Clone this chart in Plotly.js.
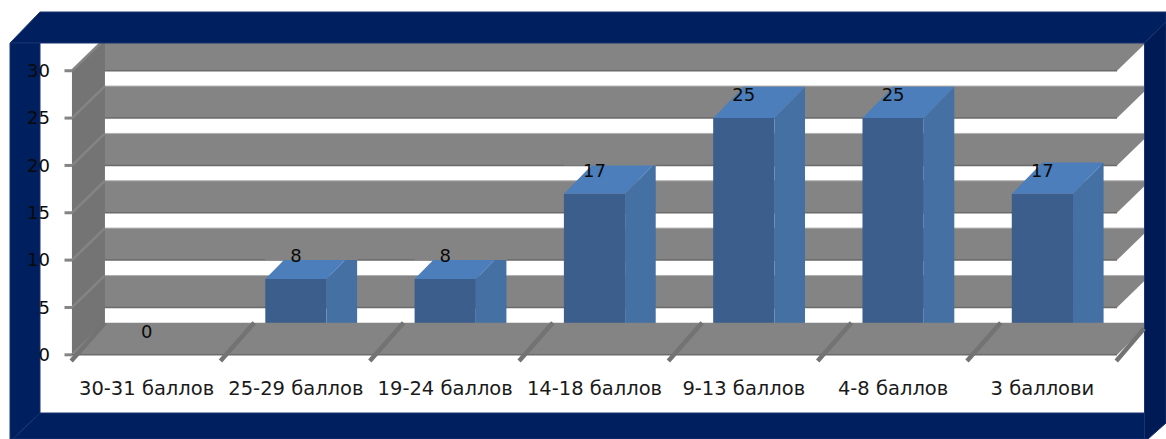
<!DOCTYPE html>
<html>
<head>
<meta charset="utf-8">
<script src="https://cdn.plot.ly/plotly-3.0.1.min.js"></script>
<style>html,body{margin:0;padding:0;background:#fff}#chart{width:1166px;height:439px}</style>
</head>
<body>
<div id="chart"></div>
<script>
// Score bands and the share of results in each
const categories = ['30-31 баллов', '25-29 баллов', '19-24 баллов', '14-18 баллов', '9-13 баллов', '4-8 баллов', '3 баллови'];
const values = [0, 8, 8, 17, 25, 25, 17];
const yTicks = [0, 5, 10, 15, 20, 25, 30];

const W = 1166, H = 439;
const xRange = [-0.982, 6.828];
const yRange = [-8.89, 37.47];

// Pseudo-3D depth of the walls and of the columns, in axis units
const wallDX = 0.221, wallDY = 3.38;
const barDX = 0.205, barDY = 3.3;
const barW = 0.41;
const x0 = -0.5, x1 = categories.length - 0.5;
const clipX = x1 + 0.181;          // right wall stops at the inner frame edge

const FONT = 'DejaVu Sans, Verdana, sans-serif';
const navy = '#001f5f', navyDark = '#001a56', edge = '#1a3370';
const bandGray = '#848484', wallGray = '#747474', ridgeGray = '#848484', divGray = '#737373';

const poly = pts => 'M' + pts.map(p => p[0] + ',' + p[1]).join('L') + 'Z';
const dataShape = (pts, fill) => ({type: 'path', xref: 'x', yref: 'y', layer: 'below', path: poly(pts), fillcolor: fill, line: {width: 0}});
const dataLine = (a, b, color, width) => ({type: 'line', xref: 'x', yref: 'y', layer: 'below', x0: a[0], y0: a[1], x1: b[0], y1: b[1], line: {color: color, width: width}});

// Frame corners are given in page pixels and converted to axis units so they stack above the planes
const pageX = px => xRange[0] + px / W * (xRange[1] - xRange[0]);
const pageY = py => yRange[1] - py / H * (yRange[1] - yRange[0]);
const frame = (pts, fill) => ({type: 'path', xref: 'x', yref: 'y', layer: 'below',
  path: poly(pts.map(p => [pageX(p[0]), pageY(p[1])])), fillcolor: fill, line: {color: edge, width: 1}});

const shapes = [];

// Horizontal gridline planes running back from each value tick
yTicks.slice(1).forEach(v => {
  shapes.push(dataShape([[x0, v], [x1, v], [x1 + wallDX, v + wallDY], [x0 + wallDX, v + wallDY]], bandGray));
  shapes.push(dataLine([x0 + wallDX, v + wallDY], [x1 + wallDX, v + wallDY], '#b0b0b0', 1));
  shapes.push(dataLine([x0, v], [x1, v], '#6a6a6a', 1.5));
});

// Left side wall with its raised tick ridges
shapes.push(dataShape([[x0, 0], [x0 + wallDX, wallDY], [x0 + wallDX, 30 + wallDY], [x0, 30]], wallGray));
yTicks.forEach(v => {
  shapes.push(dataLine([x0 - 0.05, v], [x0, v], ridgeGray, 3));
  shapes.push(dataLine([x0, v], [x0 + wallDX, v + wallDY], ridgeGray, 2.5));
});

// Navy picture frame
shapes.push(frame([[40, 12], [1166, 12], [1166, 22], [1144.5, 43], [10, 43]], navy));
shapes.push(frame([[10, 43], [40, 43], [40, 413], [13, 439], [10, 439]], navy));
shapes.push(frame([[13, 439], [40, 413], [1144.5, 413], [1144.5, 439]], navy));
shapes.push(frame([[1144.5, 43], [1166, 22], [1166, 423], [1148, 439], [1144.5, 439]], navyDark));

// Polygons with null separators, one ring per column
const ring = (list, build) => {
  const xs = [], ys = [];
  list.forEach(i => {
    build(i).forEach(p => { xs.push(p[0]); ys.push(p[1]); });
    xs.push(null); ys.push(null);
  });
  return {x: xs, y: ys};
};
const filled = (r, color) => ({type: 'scatter', mode: 'lines', x: r.x, y: r.y, fill: 'toself', fillcolor: color, line: {width: 0}, hoverinfo: 'skip', showlegend: false});

const standing = values.map((v, i) => i).filter(i => values[i] > 0);

const sideFaces = ring(standing, i => {
  const r = i + barW / 2, v = values[i];
  return [[r, 0], [r + barDX, barDY], [r + barDX, v + barDY], [r, v]];
});
const topFaces = ring(standing, i => {
  const l = i - barW / 2, r = i + barW / 2, v = values[i];
  return [[l, v], [r, v], [r + barDX, v + barDY], [l + barDX, v + barDY]];
});

// The gridline planes at 10 and 20 pass in front of the tops of these columns
const overlaps = [{i: 1, v: 10}, {i: 2, v: 10}, {i: 3, v: 20}];
const planePatches = ring(overlaps, o => {
  const a = o.i - barW / 2, b = o.i + barW / 2 + barDX + 0.005, t = o.v + wallDY - 0.15;
  return [[a, o.v], [b, o.v], [b, t], [a, t]];
});

const floor = [[x0, 0], [x1, 0], [clipX, 0.181 / wallDX * wallDY], [clipX, wallDY], [x0 + wallDX, wallDY]];
const floorRing = ring([0], () => floor);

// Category dividers across the floor
const divX = [], divY = [];
for (let k = 0; k <= categories.length; k++) {
  const sx = x0 + k;
  const depth = k === categories.length ? 0.181 : wallDX;
  divX.push(sx - 0.005, sx + depth, null);
  divY.push(-0.65, depth / wallDX * wallDY, null);
}

const traces = [
  {type: 'bar', x: categories.map((c, i) => i), y: values, width: barW, marker: {color: '#3b5e8c', line: {width: 0}}, hoverinfo: 'skip', showlegend: false},
  filled(sideFaces, '#4570a4'),
  filled(topFaces, '#4c7ebb'),
  filled(planePatches, bandGray),
  filled(floorRing, bandGray),
  {type: 'scatter', mode: 'lines', x: [x0, x1, null], y: [0, 0, null], line: {color: '#6a6a6a', width: 1.5}, hoverinfo: 'skip', showlegend: false},
  {type: 'scatter', mode: 'lines', x: divX, y: divY, line: {color: divGray, width: 4.5}, hoverinfo: 'skip', showlegend: false},
  {type: 'scatter', mode: 'text', x: categories.map((c, i) => i), y: values.map(v => v + 2.3), text: values.map(String),
    textposition: 'middle center', textfont: {family: FONT, size: 18, color: '#0a0a0a'}, cliponaxis: false, hoverinfo: 'skip', showlegend: false}
];

const layout = {
  width: W, height: H,
  margin: {l: 0, r: 0, t: 0, b: 0, pad: 0},
  paper_bgcolor: '#ffffff', plot_bgcolor: 'rgba(0,0,0,0)',
  showlegend: false, hovermode: false,
  xaxis: {
    type: 'linear', range: xRange, anchor: 'free', position: 1 - 374 / H,
    tickmode: 'array', tickvals: categories.map((c, i) => i), ticktext: categories,
    ticks: '', showgrid: false, zeroline: false, showline: false, tickangle: 0,
    tickfont: {family: FONT, size: 19.5, color: '#1a1a1a'}
  },
  yaxis: {
    type: 'linear', range: yRange, anchor: 'free', position: 50 / W,
    tickmode: 'array', tickvals: yTicks, ticktext: yTicks.map(String),
    ticks: '', showgrid: false, zeroline: false, showline: false,
    tickfont: {family: FONT, size: 18, color: '#0a0a0a'}
  },
  shapes: shapes
};

Plotly.newPlot('chart', traces, layout, {displayModeBar: false, staticPlot: true});
</script>
</body>
</html>
